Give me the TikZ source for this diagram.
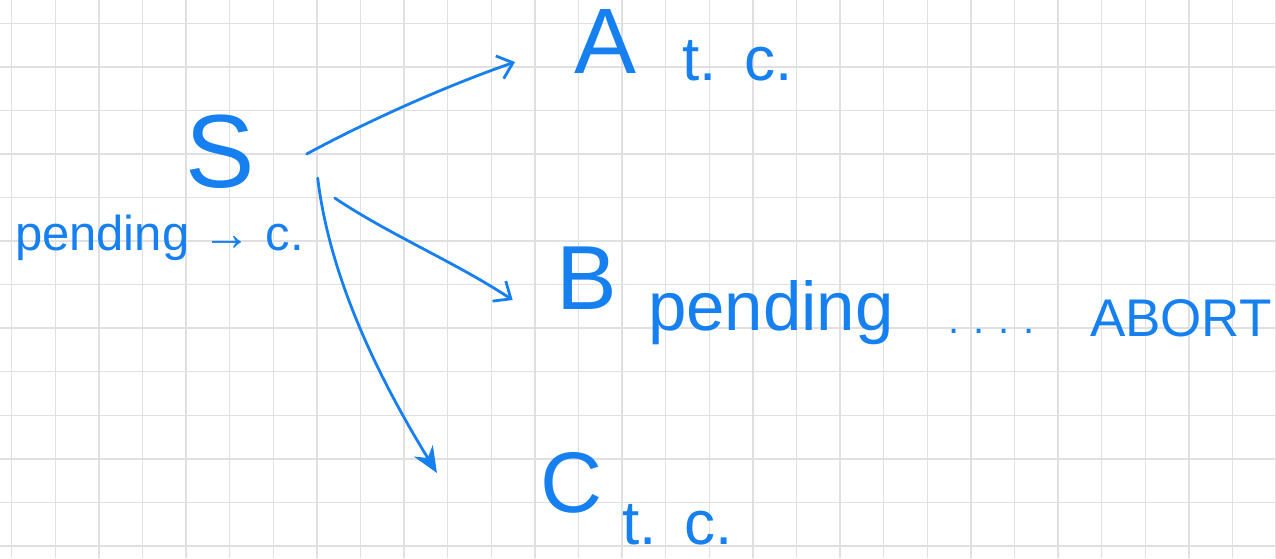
\documentclass[tikz,border=0pt]{standalone}
\usepackage{fontspec}
\setmainfont{Liberation Sans}
\usetikzlibrary{arrows.meta}
\definecolor{ink}{RGB}{22,128,240}
\definecolor{gridc}{RGB}{224,224,224}
\tikzset{
  hand/.style={text=ink, inner sep=0pt, outer sep=0pt},
  link/.style={draw=ink, line width=2.8pt, line cap=round, line join=round},
  barb/.style={-{Straight Barb[length=14pt,width=24pt,line width=2.8pt]}},
}
\begin{document}
\begin{tikzpicture}[x=1pt,y=-1pt]
\useasboundingbox (0,0) rectangle (1276,558);
\fill[white] (0,0) rectangle (1276,558);
% grid
\foreach \i in {0,...,29} {\draw[gridc, line width=1.4pt] (11.7+43.6*\i,0) -- (11.7+43.6*\i,558);}
\foreach \j in {0,...,12} {\draw[gridc, line width=1.4pt] (0,23.3+43.55*\j) -- (1276,23.3+43.55*\j);}
% texts
\node[hand, font=\fontsize{104}{104}\selectfont] (S) at (220,152) {S};
\node[hand, font=\fontsize{93}{93}\selectfont] (A) at (606,42) {A};
\node[hand, font=\fontsize{62}{62}\selectfont, anchor=base west] (Atc) at (682,80) {t.\hspace{0.45em}c.};
\node[hand, font=\fontsize{49}{49}\selectfont, anchor=base west] (Sp) at (15,250) {pending → c.};
\node[hand, font=\fontsize{91}{91}\selectfont] (B) at (587,278) {B};
\node[hand, font=\fontsize{69}{69}\selectfont, anchor=base west] (Bp) at (648,330) {pending};
\node[hand, font=\fontsize{40}{40}\selectfont, anchor=base west] (dots) at (948,333) {.\hspace{0.35em}.\hspace{0.35em}.\hspace{0.35em}.};
\node[hand, font=\fontsize{53}{53}\selectfont, anchor=base west] (abort) at (1090,336) {ABORT};
\node[hand, font=\fontsize{86}{86}\selectfont] (C) at (572,483) {C};
\node[hand, font=\fontsize{62}{62}\selectfont, anchor=base west] (Ctc) at (622,544) {t.\hspace{0.45em}c.};
% connectors
\draw[link, barb] ([shift={(52,2)}]S.east) .. controls (360,125) and (440,88) .. ([shift={(-60,20)}]A.west);
\draw[link, barb] ([shift={(80,46)}]S.east) .. controls (390,235) and (455,262) .. ([shift={(-44,22)}]B.west);
\draw[link, -{Stealth[length=26pt,width=22pt]}] ([shift={(63,26)}]S.east) .. controls (330,280) and (380,380) .. ([shift={(-104,-10)}]C.west);
\end{tikzpicture}
\end{document}
